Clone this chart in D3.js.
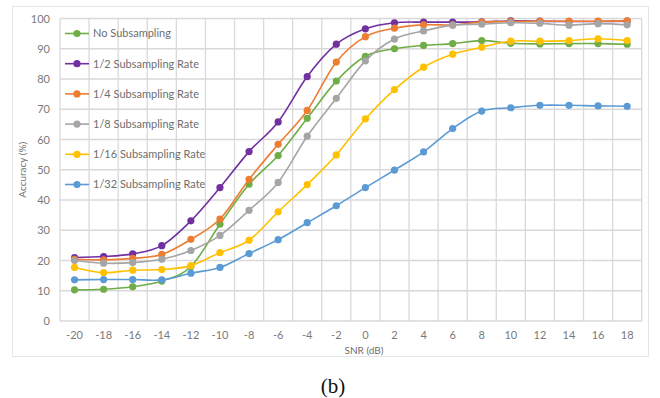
<!DOCTYPE html>
<html>
<head>
<meta charset="utf-8">
<script src="https://cdn.jsdelivr.net/npm/d3@7"></script>
<style>
  html, body { margin: 0; padding: 0; background: #fff; }
  svg { display: block; font-family: Lato, "Open Sans", sans-serif; }
</style>
</head>
<body>
<svg id="chart" width="660" height="398"></svg>
<script>
const snr = [-20,-18,-16,-14,-12,-10,-8,-6,-4,-2,0,2,4,6,8,10,12,14,16,18];
const yTicks = [0,10,20,30,40,50,60,70,80,90,100];
const seriesNames = ["No Subsampling","1/2 Subsampling Rate","1/4 Subsampling Rate","1/8 Subsampling Rate","1/16 Subsampling Rate","1/32 Subsampling Rate"];
const noSub   = [10.3,10.5,11.3,13.2,18.0,32.0,45.2,54.7,67.0,79.3,87.5,90.0,91.1,91.7,92.7,91.8,91.6,91.7,91.7,91.5];
const rate2   = [21.0,21.3,22.2,24.9,33.1,44.1,56.0,65.8,80.8,91.5,96.6,98.6,98.8,98.8,98.9,99.2,99.1,99.0,99.0,99.1];
const rate4   = [20.4,20.2,20.7,22.0,27.0,33.7,46.8,58.4,69.6,85.6,94.0,96.8,97.9,97.9,98.8,99.0,99.1,99.1,99.1,99.2];
const rate8   = [20.0,19.1,19.3,20.4,23.3,28.3,36.6,45.8,61.1,73.6,86.0,93.2,95.9,97.8,98.1,98.6,98.4,97.8,98.3,97.9];
const rate16  = [17.7,16.0,16.8,17.0,18.3,22.6,26.7,36.1,45.1,54.9,66.8,76.5,83.9,88.2,90.5,92.5,92.5,92.7,93.3,92.7];
const rate32  = [13.6,13.7,13.7,13.6,15.8,17.7,22.3,26.9,32.5,38.1,44.1,49.9,55.9,63.6,69.4,70.5,71.3,71.3,71.1,71.0];
const seriesValues = [noSub, rate2, rate4, rate8, rate16, rate32];
const colors = ["#70AD47","#7030A0","#ED7D31","#A5A5A5","#FFC000","#5B9BD5"];

const svg = d3.select("#chart");
const plot = {left: 60, right: 641.7, top: 18.5, bottom: 321};

// chart area border
svg.append("rect").attr("x", 12.5).attr("y", 6.5).attr("width", 636).attr("height", 350)
  .attr("fill", "none").attr("stroke", "#e6e6e6").attr("stroke-width", 1);

const x = d3.scaleBand().domain(snr).range([plot.left, plot.right]).paddingInner(0).paddingOuter(0);
const y = d3.scaleLinear().domain([0, 100]).range([plot.bottom, plot.top]);

const g = svg.append("g");

// horizontal grid
g.selectAll("line.hg").data(yTicks).enter().append("line")
  .attr("x1", plot.left).attr("x2", plot.right)
  .attr("y1", d => y(d)).attr("y2", d => y(d))
  .attr("stroke", "#d9d9d9").attr("stroke-width", 1.3);

// vertical grid at category boundaries
const bounds = snr.map(d => x(d)).concat([x(snr[snr.length-1]) + x.bandwidth()]);
g.selectAll("line.vg").data(bounds).enter().append("line")
  .attr("x1", d => d).attr("x2", d => d)
  .attr("y1", plot.top).attr("y2", plot.bottom)
  .attr("stroke", "#d9d9d9").attr("stroke-width", 1.3);

// y tick labels
const yAxis = d3.axisLeft(y).tickValues(yTicks).tickSize(0).tickPadding(10);
const ya = svg.append("g").attr("transform", `translate(${plot.left},0)`).call(yAxis);
ya.select(".domain").remove();
ya.selectAll("text").attr("fill", "#7a7a7a").style("font-size", "11px").style("font-family", "Lato, sans-serif");

// x tick labels
const xAxis = d3.axisBottom(x).tickSize(0).tickPadding(10);
const xa = svg.append("g").attr("transform", `translate(0,${plot.bottom})`).call(xAxis);
xa.select(".domain").remove();
xa.selectAll("text").attr("fill", "#7a7a7a").style("font-size", "11px").style("font-family", "Lato, sans-serif");

// axis titles
svg.append("text").attr("transform", `translate(26,${(plot.top+plot.bottom)/2}) rotate(-90)`)
  .attr("text-anchor", "middle").attr("fill", "#6e6e6e").style("font-size", "10px").text("Accuracy (%)");
svg.append("text").attr("x", 364).attr("y", 353.5)
  .attr("text-anchor", "middle").attr("fill", "#6e6e6e").style("font-size", "10px").text("SNR (dB)");

// series
const line = d3.line().x((d, i) => x(snr[i]) + x.bandwidth()/2).y(d => y(d)).curve(d3.curveCatmullRom.alpha(0));
seriesValues.forEach((vals, si) => {
  const sg = svg.append("g");
  sg.append("path").datum(vals).attr("d", line).attr("fill", "none")
    .attr("stroke", colors[si]).attr("stroke-width", 1.6);
  sg.selectAll("circle").data(vals).enter().append("circle")
    .attr("cx", (d, i) => x(snr[i]) + x.bandwidth()/2).attr("cy", d => y(d))
    .attr("r", 3.6).attr("fill", colors[si]);
});

// legend
const lg = svg.append("g");
seriesNames.forEach((name, i) => {
  const ly = 33.5 + i * 30.2;
  lg.append("line").attr("x1", 65).attr("x2", 89).attr("y1", ly).attr("y2", ly)
    .attr("stroke", colors[i]).attr("stroke-width", 1.6);
  lg.append("circle").attr("cx", 77).attr("cy", ly).attr("r", 3.6).attr("fill", colors[i]);
  lg.append("text").attr("x", 93).attr("y", ly).attr("dy", "0.35em")
    .attr("fill", "#6e6e6e").style("font-size", "11px").text(name);
});

// caption
svg.append("text").attr("x", 333).attr("y", 393).attr("text-anchor", "middle")
  .style("font-family", "'Liberation Serif', 'DejaVu Serif', serif").style("font-size", "21px")
  .attr("fill", "#111").text("(b)");
</script>
</body>
</html>
